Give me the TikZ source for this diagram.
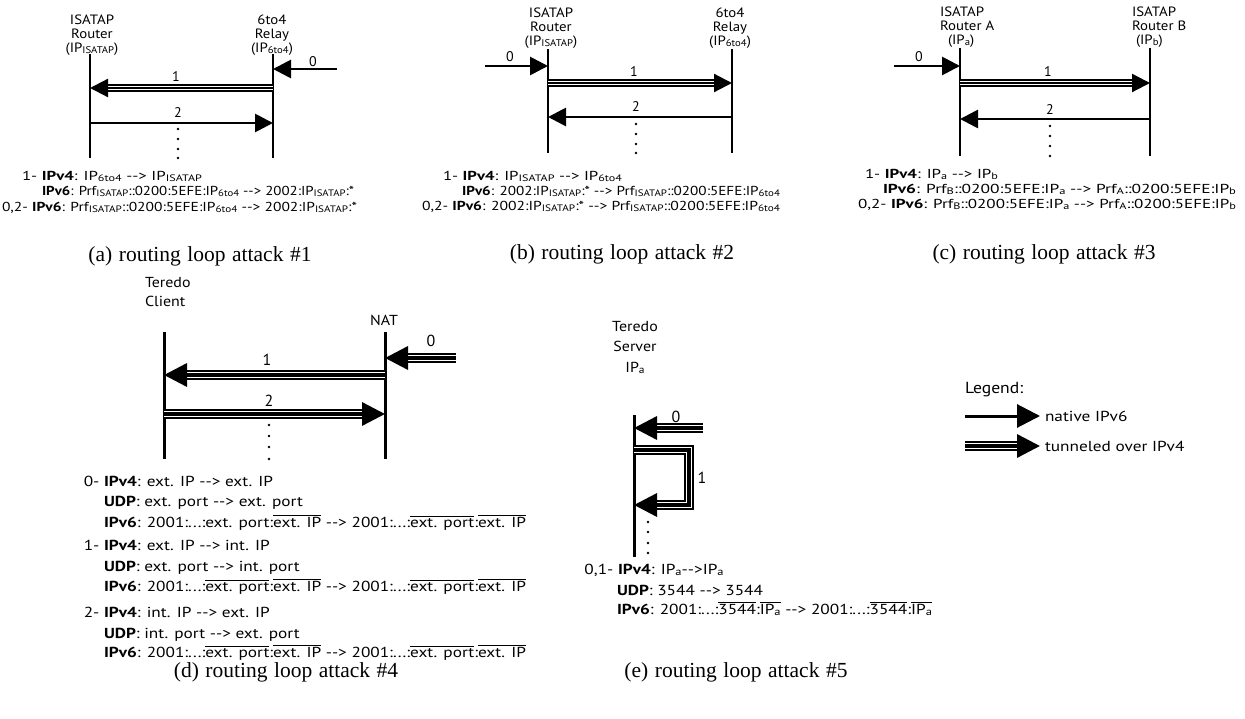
\documentclass[tikz,border=0pt]{standalone}
\usepackage{fontspec}
\setmainfont{PT Sans}
\newfontfamily\capfont{Liberation Serif}
\usetikzlibrary{arrows.meta}
\newcommand\lo[1]{\raisebox{-1pt}{\scalebox{0.72}{#1}}}
\newcommand\arr{-\kern0pt-\kern0pt>}
\newcommand\ol[1]{$\overline{\mbox{#1}}$}
\newcommand\fs[2]{\fontsize{#1}{#2}\selectfont}
\newlength\mw
% text line of panels a-c, stretched to a given width (px)
\newcommand\fitline[2]{\settowidth\mw{\fs{13}{15}#2}\pgfmathsetmacro\fx{#1/\mw}\scalebox{\fx}[1]{\fs{13}{15}#2}}
\newcommand\td[1]{\scalebox{\sxd}[1]{\fs{14.5}{18}#1}}
\newcommand\la[1]{\scalebox{1.1}[1]{#1}}
\tikzset{
  life/.style={line width=2.8pt},
  nat/.style={line width=2.8pt, -{Triangle[length=18pt,width=18pt]}},
  natB/.style={line width=3pt, -{Triangle[length=23pt,width=23pt]}},
  tun/.style={line width=2.2pt, -{Triangle[length=18pt,width=18pt]},
    preaction={draw,-,line width=8.5pt,black,shorten >=10pt},
    preaction={draw,-,line width=4.8pt,white,shorten >=10pt}},
  tunB/.style={line width=3.4pt, line join=miter, -{Triangle[length=23pt,width=23pt]},
    preaction={draw,-,line width=10.5pt,black,shorten >=12pt},
    preaction={draw,-,line width=6.6pt,white,shorten >=12pt}},
  lbl/.style={font=\fs{13.5}{14}, align=center, anchor=north},
  num/.style={font=\fs{14}{14}},
  numB/.style={font=\fs{16}{16}},
  txt/.style={anchor=base west},
  captxt/.style={font=\capfont\fs{21.5}{24}, anchor=base},
}
\begin{document}
\settowidth\mw{\fs{14.5}{18}\textbf{IPv6}: 2001:...:\ol{ext. port}:\ol{ext. IP} \arr{} 2001:...:\ol{ext. port}:\ol{ext. IP}}%
\pgfmathsetmacro\sxd{422/\mw}%
\begin{tikzpicture}[x=1pt,y=-1pt, every node/.style={inner sep=0pt, outer sep=0pt}]
\useasboundingbox (0,0) rectangle (1245,719);

% ================= (a) =================
\node[lbl] (aLlab) at (92,15) {\la{ISATAP}\\\la{Router}\\\la{(IP\lo{ISATAP})}};
\node[lbl] (aRlab) at (272,15) {\la{6to4}\\\la{Relay}\\\la{(IP\lo{6to4})}};
\coordinate (aLt) at (90,54);  \coordinate (aLb) at (90,158);
\coordinate (aRt) at (273,54); \coordinate (aRb) at (273,158);
\draw[life] (aLt) -- (aLb);
\draw[life] (aRt) -- (aRb);
\coordinate (a0s) at (337,69); \coordinate (a0e) at (273,69);
\coordinate (a1s) at (273,88); \coordinate (a1e) at (90,88);
\coordinate (a2s) at (90,123); \coordinate (a2e) at (273,123);
\draw[nat] (a0s) -- (a0e);
\draw[tun] (a1s) -- (a1e);
\draw[nat] (a2s) -- (a2e);
\node[num] (a0l) at (313,62) {0};
\node[num] (a1l) at (176,77) {1};
\node[num] (a2l) at (178,113) {2};
\foreach \y in {129,139,149,158} \fill (178,\y) circle (1.3);
\node[txt] (at1) at (22,181) {\fitline{180}{1- \textbf{IPv4}: IP\lo{6to4} \arr{} IP\lo{ISATAP}}};
\node[txt] (at2) at (42,196) {\fitline{312}{\textbf{IPv6}: Prf\lo{ISATAP}::0200:5EFE:IP\lo{6to4} \arr{} 2002:IP\lo{ISATAP}:*}};
\node[txt] (at3) at (2,212) {\fitline{355}{0,2- \textbf{IPv6}: Prf\lo{ISATAP}::0200:5EFE:IP\lo{6to4} \arr{} 2002:IP\lo{ISATAP}:*}};
\node[captxt] (acap) at (200,262) {\spaceskip=6.5pt\relax (a) routing loop attack \#1};

% ================= (b) =================
\node[lbl] (bLlab) at (551,8) {\la{ISATAP}\\\la{Router}\\\la{(IP\lo{ISATAP})}};
\node[lbl] (bRlab) at (730,8) {\la{6to4}\\\la{Relay}\\\la{(IP\lo{6to4})}};
\coordinate (bLt) at (548,49);  \coordinate (bLb) at (548,153);
\coordinate (bRt) at (732,49);  \coordinate (bRb) at (732,153);
\draw[life] (bLt) -- (bLb);
\draw[life] (bRt) -- (bRb);
\coordinate (b0s) at (485,66); \coordinate (b0e) at (548,66);
\coordinate (b1s) at (548,83); \coordinate (b1e) at (732,83);
\coordinate (b2s) at (732,117); \coordinate (b2e) at (548,117);
\draw[nat] (b0s) -- (b0e);
\draw[tun] (b1s) -- (b1e);
\draw[nat] (b2s) -- (b2e);
\node[num] (b0l) at (510,57) {0};
\node[num] (b1l) at (634,72) {1};
\node[num] (b2l) at (636,107) {2};
\foreach \y in {124,134,144,153} \fill (636,\y) circle (1.3);
\node[txt] (bt1) at (443,181) {\fitline{179}{1- \textbf{IPv4}: IP\lo{ISATAP} \arr{} IP\lo{6to4}}};
\node[txt] (bt2) at (462,196) {\fitline{318}{\textbf{IPv6}: 2002:IP\lo{ISATAP}:* \arr{} Prf\lo{ISATAP}::0200:5EFE:IP\lo{6to4}}};
\node[txt] (bt3) at (422,211) {\fitline{358}{0,2- \textbf{IPv6}: 2002:IP\lo{ISATAP}:* \arr{} Prf\lo{ISATAP}::0200:5EFE:IP\lo{6to4}}};
\node[captxt] (bcap) at (622,260) {\spaceskip=6.5pt\relax (b) routing loop attack \#2};

% ================= (c) =================
\node[lbl, align=left, anchor=north west] (cLlab) at (940,7) {\la{ISATAP}\\\la{Router A}\\\hspace*{8pt}\la{(IP\lo{a})}};
\node[lbl, align=left, anchor=north west] (cRlab) at (1132,7) {\la{ISATAP}\\\la{Router B}\\\hspace*{4pt}\la{(IP\lo{b})}};
\coordinate (cLt) at (960,48);  \coordinate (cLb) at (960,156);
\coordinate (cRt) at (1150,48); \coordinate (cRb) at (1150,156);
\draw[life] (cLt) -- (cLb);
\draw[life] (cRt) -- (cRb);
\coordinate (c0s) at (894,66); \coordinate (c0e) at (960,66);
\coordinate (c1s) at (960,83); \coordinate (c1e) at (1150,83);
\coordinate (c2s) at (1150,119); \coordinate (c2e) at (960,119);
\draw[nat] (c0s) -- (c0e);
\draw[tun] (c1s) -- (c1e);
\draw[nat] (c2s) -- (c2e);
\node[num] (c0l) at (919,57) {0};
\node[num] (c1l) at (1048,72) {1};
\node[num] (c2l) at (1050,110) {2};
\foreach \y in {126,136,146,156} \fill (1050,\y) circle (1.3);
\node[txt] (ct1) at (865,179) {\fitline{133}{1- \textbf{IPv4}: IP\lo{a} \arr{} IP\lo{b}}};
\node[txt] (ct2) at (883,194) {\fitline{353}{\textbf{IPv6}: Prf\lo{B}::0200:5EFE:IP\lo{a} \arr{} Prf\lo{A}::0200:5EFE:IP\lo{b}}};
\node[txt] (ct3) at (858,209) {\fitline{378}{0,2- \textbf{IPv6}: Prf\lo{B}::0200:5EFE:IP\lo{a} \arr{} Prf\lo{A}::0200:5EFE:IP\lo{b}}};
\node[captxt] (ccap) at (1044,260) {\spaceskip=6.5pt\relax (c) routing loop attack \#3};

% ================= (d) =================
\node[font=\fs{14.5}{19}, align=left, anchor=base west] (dLlab) at (145,307) {\la{Teredo}\\\la{Client}};
\node[font=\fs{14.5}{19}, anchor=base] (dRlab) at (384,326) {\la{NAT}};
\coordinate (dLt) at (164,332); \coordinate (dLb) at (164,459);
\coordinate (dRt) at (385,332); \coordinate (dRb) at (385,459);
\draw[life, line width=3pt] (dLt) -- (dLb);
\draw[life, line width=3pt] (dRt) -- (dRb);
\coordinate (d0s) at (456,358); \coordinate (d0e) at (385,358);
\coordinate (d1s) at (385,375); \coordinate (d1e) at (164,375);
\coordinate (d2s) at (164,414); \coordinate (d2e) at (385,414);
\draw[tunB] (d0s) -- (d0e);
\draw[tunB] (d1s) -- (d1e);
\draw[tunB] (d2s) -- (d2e);
\node[numB] (d0l) at (431,341) {0};
\node[numB] (d1l) at (267,360) {1};
\node[numB] (d2l) at (269,401) {2};
\foreach \y in {425,436,447,459} \fill (269,\y) circle (1.4);
\node[txt] (dt1) at (104,486) {\td{\llap{0- }\textbf{IPv4}: ext. IP \arr{} ext. IP}};
\node[txt] (dt2) at (104,506) {\td{\textbf{UDP}: ext. port \arr{} ext. port}};
\node[txt] (dt3) at (104,527) {\td{\textbf{IPv6}: 2001:...:ext. port:\ol{ext. IP} \arr{} 2001:...:\ol{ext. port}:\ol{ext. IP}}};
\node[txt] (dt4) at (104,550) {\td{\llap{1- }\textbf{IPv4}: ext. IP \arr{} int. IP}};
\node[txt] (dt5) at (104,571) {\td{\textbf{UDP}: ext. port \arr{} int. port}};
\node[txt] (dt6) at (104,591) {\td{\textbf{IPv6}: 2001:...:\ol{ext. port}:\ol{ext. IP} \arr{} 2001:...:\ol{ext. port}:\ol{ext. IP}}};
\node[txt] (dt7) at (104,617) {\td{\llap{2- }\textbf{IPv4}: int. IP \arr{} ext. IP}};
\node[txt] (dt8) at (104,638) {\td{\textbf{UDP}: int. port \arr{} ext. port}};
\node[txt] (dt9) at (104,657) {\td{\textbf{IPv6}: 2001:...:\ol{ext. port}:\ol{ext. IP} \arr{} 2001:...:\ol{ext. port}:\ol{ext. IP}}};
\node[captxt] (dcap) at (286,677) {\spaceskip=6.5pt\relax (d) routing loop attack \#4};

% ================= (e) =================
\node[font=\fs{14.5}{20.5}, align=center, anchor=base] (eLab) at (635,372) {\la{Teredo}\\\la{Server}\\\la{IP\lo{a}}};
\coordinate (eLt) at (634,415); \coordinate (eLb) at (634,557);
\draw[life, line width=3pt] (eLt) -- (eLb);
\coordinate (e0s) at (703,428); \coordinate (e0e) at (634,428);
\draw[tunB] (e0s) -- (e0e);
\coordinate (e1s) at (634,450); \coordinate (e1a) at (689,450);
\coordinate (e1b) at (689,505); \coordinate (e1e) at (634,505);
\draw[tunB] (e1s) -- (e1a) -- (e1b) -- (e1e);
\node[numB] (e0l) at (676,417) {0};
\node[numB] (e1l) at (702,478) {1};
\foreach \y in {522,532,543,553} \fill (648,\y) circle (1.4);
\node[txt] (et1) at (618,574) {\td{\llap{0,1- }\textbf{IPv4}: IP\lo{a}\arr{}IP\lo{a}}};
\node[txt] (et2) at (617,595) {\td{\textbf{UDP}: 3544 \arr{} 3544}};
\node[txt] (et3) at (617,614) {\td{\textbf{IPv6}: 2001:...:\ol{3544}:\ol{IP\lo{a}} \arr{} 2001:...:\ol{3544}:\ol{IP\lo{a}}}};
\node[captxt] (ecap) at (736,677) {\spaceskip=6.5pt\relax (e) routing loop attack \#5};

% ================= legend =================
\node[font=\fs{16}{16}, anchor=base west] (legT) at (965,393) {\la{Legend:}};
\coordinate (lg1s) at (965,416); \coordinate (lg1e) at (1040,416);
\coordinate (lg2s) at (965,446); \coordinate (lg2e) at (1040,446);
\draw[natB] (lg1s) -- (lg1e);
\draw[tunB] (lg2s) -- (lg2e);
\node[anchor=west] (lg1t) at (1045,416) {\td{native IPv6}};
\node[anchor=west] (lg2t) at (1045,446) {\td{tunneled over IPv4}};
\end{tikzpicture}
\end{document}
